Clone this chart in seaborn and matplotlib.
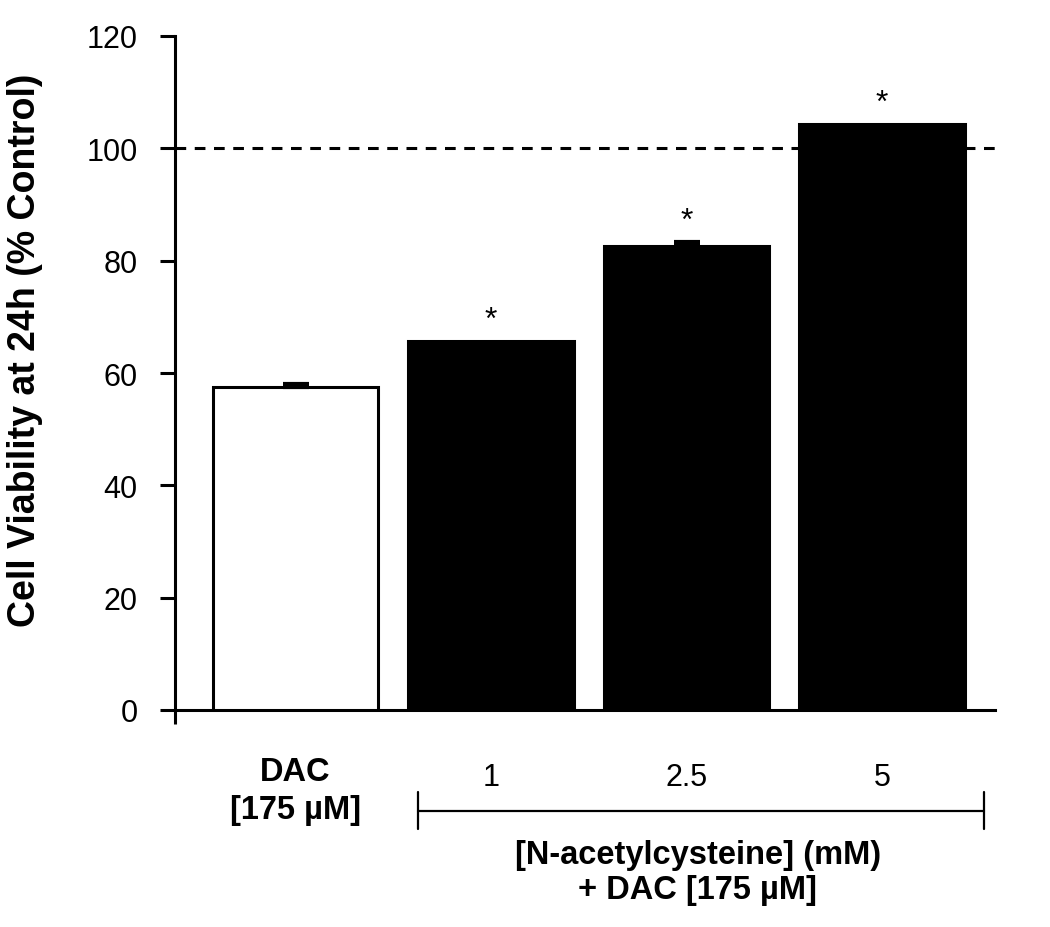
import numpy as np
import pandas as pd
import matplotlib
matplotlib.use("Agg")
import matplotlib.pyplot as plt
import matplotlib.transforms as mtransforms
import seaborn as sns

# ---- data ----
groups = ["DAC\n[175 µM]", "1", "2.5", "5"]
viability = [57.5, 65.7, 82.6, 104.3]
sem = [0.6, 0.0, 0.7, 0.0]
significant = [False, True, True, True]
bar_colors = ["white", "black", "black", "black"]
y_ticks = [0, 20, 40, 60, 80, 100, 120]
reference_level = 100
ylabel = "Cell Viability at 24h (% Control)"
bracket_label = "[N-acetylcysteine] (mM)\n+ DAC [175 µM]"

df = pd.DataFrame({"group": groups, "viability": viability})

sns.set_style("white")
plt.rcParams["font.family"] = ["Liberation Sans", "DejaVu Sans"]
for key in ["text.color", "axes.labelcolor", "xtick.color", "ytick.color",
            "axes.edgecolor"]:
    plt.rcParams[key] = "black"

fig = plt.figure(figsize=(10.5, 9.28), dpi=100)
ax = fig.add_axes([175 / 1050, (928 - 711) / 928, 820 / 1050, 674 / 928])

sns.barplot(data=df, x="group", y="viability", hue="group",
            palette=dict(zip(groups, bar_colors)), legend=False,
            width=0.845, errorbar=None, saturation=1, ax=ax, zorder=3)
for p in ax.patches:
    p.set_edgecolor("black")
    p.set_linewidth(2.2)

pos = np.arange(len(groups))
has_err = np.array(sem) > 0
ax.errorbar(pos[has_err], np.array(viability)[has_err],
            yerr=[np.zeros(has_err.sum()), np.array(sem)[has_err]], fmt="none",
            ecolor="black", elinewidth=2, capsize=9.7, capthick=3, zorder=4)

for i, (v, e, s) in enumerate(zip(viability, sem, significant)):
    if s:
        ax.annotate("*", (i, v + e), xytext=(0, 15), textcoords="offset points",
                    ha="center", va="center", fontsize=23)

ax.axhline(reference_level, color="black", lw=2.2, ls=(0, (3.5, 2.8)), zorder=2)

xl = (175 - 295.5) / 195.5
xr = (995 - 295.5) / 195.5
ax.set_xlim(xl, xr)
ax.set_ylim(0, 120)
ax.set_yticks(y_ticks)
ax.set_yticklabels([str(t) for t in y_ticks], fontsize=22)

for side in ["top", "right"]:
    ax.spines[side].set_visible(False)
for side in ["left", "bottom"]:
    ax.spines[side].set_linewidth(2.2)
    ax.spines[side].set_color("black")

ax.tick_params(axis="y", direction="out", length=10.8, width=2.2, pad=16,
               left=True, color="black")
ax.set_xticks(pos)
ax.set_xticklabels(groups, fontsize=22)
ax.tick_params(axis="x", which="major", length=0, pad=33)
ax.set_xticks([xl], minor=True)
ax.tick_params(axis="x", which="minor", length=10, width=2.2, bottom=True,
               direction="out", color="black")

labels = ax.get_xticklabels()
labels[0].set_fontweight("bold")
labels[0].set_fontsize(23.5)
labels[0].set_linespacing(1.28)
shift = mtransforms.ScaledTranslation(0, -6 / 100, fig.dpi_scale_trans)
for lab in labels[1:]:
    lab.set_transform(lab.get_transform() + shift)

ax.set_xlabel("")
ax.set_ylabel(ylabel, fontsize=27, fontweight="bold")
ax.yaxis.label.set_va("center")
ax.yaxis.set_label_coords(-0.183, 0.535)

# bracket under the NAC groups
trans = ax.get_xaxis_transform()
bx0 = (418 - 295.5) / 195.5
bx1 = (984 - 295.5) / 195.5
ax.plot([bx0, bx1], [-0.1499, -0.1499], color="black", lw=1.6,
        transform=trans, clip_on=False)
for bx in (bx0, bx1):
    ax.plot([bx, bx], [-0.1217, -0.1766], color="black", lw=1.6,
            transform=trans, clip_on=False)
ax.text((698 - 295.5) / 195.5, -0.2404, bracket_label, transform=trans,
        ha="center", va="center", fontsize=23.5, fontweight="bold",
        linespacing=1.15)

fig.savefig("out.png", dpi=100, facecolor="white")
